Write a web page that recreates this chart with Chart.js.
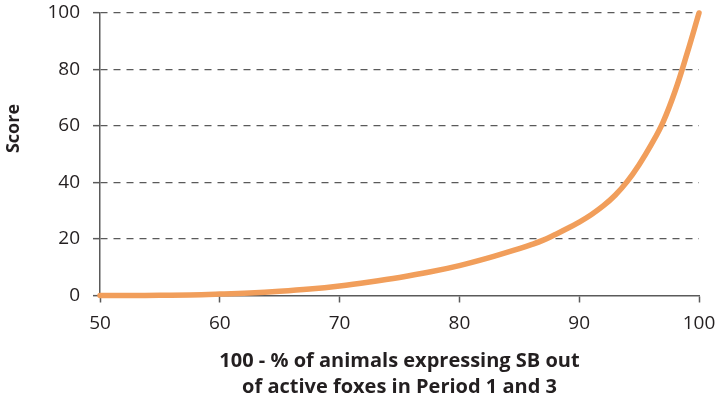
<!DOCTYPE html>
<html>
<head>
<meta charset="utf-8">
<script src="https://cdn.jsdelivr.net/npm/chart.js@4.4.1/dist/chart.umd.min.js"></script>
<style>
  html, body { margin: 0; padding: 0; background: #fff; }
  #wrap { width: 717px; height: 405px; }
</style>
</head>
<body>
<div id="wrap"><canvas id="scoreChart" width="717" height="405"></canvas></div>
<script>
// values
const xValues = [50, 52.5, 55, 57.5, 60, 62.5, 65, 67.5, 70, 72.5, 75, 77.5, 80, 82.5, 85, 86, 87, 88, 89, 90, 91, 92, 93, 94, 95, 96, 97, 98, 99, 100];
const scores  = [0, 0, 0.1, 0.2, 0.5, 0.9, 1.5, 2.3, 3.4, 4.8, 6.4, 8.3, 10.6, 13.4, 16.6, 18.0, 19.6, 21.6, 23.7, 26.0, 28.6, 31.7, 35.5, 40.3, 46.3, 53.3, 61.4, 72.3, 85.6, 100];
const xTicks = [50, 60, 70, 80, 90, 100];
const yTicks = [0, 20, 40, 60, 80, 100];

const axisColor = "#5a5a5a";
const textColor = "#231f20";
const lineColor = "#f19e5b";

const canvas = document.getElementById("scoreChart");

new Chart(canvas, {
  type: "scatter",
  data: {
    datasets: [{
      data: xValues.map((x, i) => ({ x, y: scores[i] })),
      showLine: true,
      borderColor: lineColor,
      borderWidth: 5.5,
      borderCapStyle: "round",
      borderJoinStyle: "round",
      pointRadius: 0,
      tension: 0.4,
      clip: false
    }]
  },
  options: {
    responsive: false,
    animation: false,
    layout: { padding: { top: 13, right: 18, left: 0, bottom: 0 } },
    plugins: {
      legend: { display: false },
      tooltip: { enabled: false }
    },
    scales: {
      x: {
        type: "linear",
        min: 50,
        max: 100,
        afterBuildTicks: s => { s.ticks = xTicks.map(v => ({ value: v })); },
        afterFit: s => {
          s.height = 109.5;
          s.paddingLeft = 0;
          s.paddingRight = 0;
        },
        border: { color: axisColor, width: 1.5 },
        grid: {
          drawOnChartArea: false,
          drawTicks: true,
          tickLength: 7,
          tickColor: axisColor,
          tickWidth: 1.5
        },
        ticks: {
          color: textColor,
          padding: 10,
          maxRotation: 0,
          font: { family: "'Open Sans'", size: 19 }
        },
        title: {
          display: true,
          text: ["100 - % of animals expressing SB out", "of active foxes in Period 1 and 3"],
          color: textColor,
          padding: { top: 0, bottom: 4 },
          font: { family: "'Open Sans'", size: 20, weight: "bold", lineHeight: 1.335 }
        }
      },
      y: {
        min: 0,
        max: 100,
        afterBuildTicks: s => { s.ticks = yTicks.map(v => ({ value: v })); },
        afterFit: s => {
          s.width = 100;
          s.paddingTop = 0;
          s.paddingBottom = 0;
        },
        border: { color: axisColor, width: 1.5, dash: [7, 6] },
        grid: {
          color: ctx => ctx.tick && ctx.tick.value === 0 ? "rgba(0,0,0,0)" : axisColor,
          lineWidth: 1.3,
          drawTicks: true,
          tickLength: 7,
          tickColor: axisColor,
          tickWidth: 1.5
        },
        ticks: {
          color: textColor,
          padding: 13,
          font: { family: "'Open Sans'", size: 19 }
        },
        title: {
          display: true,
          // leading spaces lift the word above the axis centre, as in the original
          text: "           Score",
          color: textColor,
          padding: { top: 3, bottom: 0 },
          font: { family: "'Open Sans'", size: 18, weight: "bold" }
        }
      }
    }
  }
});
</script>
</body>
</html>
